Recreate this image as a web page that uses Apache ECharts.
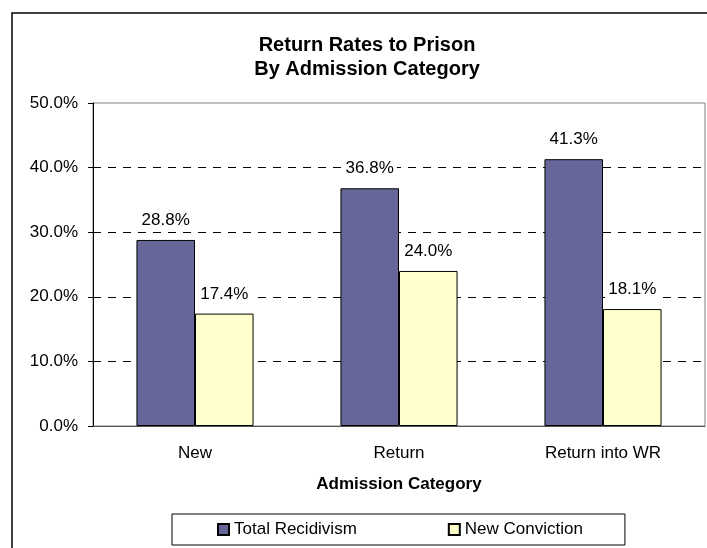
<!DOCTYPE html>
<html>
<head>
<meta charset="utf-8">
<script src="https://cdn.jsdelivr.net/npm/echarts@6/dist/echarts.min.js"></script>
<style>
html,body{margin:0;padding:0;background:#fff;}
#c{width:707px;height:548px;}
</style>
</head>
<body>
<div id="c"></div>
<script>
var categories = ['New', 'Return', 'Return into WR'];
var totalRecidivism = [28.8, 36.8, 41.3];
var newConviction = [17.4, 24.0, 18.1];
var seriesNames = ['Total Recidivism', 'New Conviction'];
var titleLines = ['Return Rates to Prison', 'By Admission Category'];
var xAxisTitle = 'Admission Category';

var FONT = '"Liberation Sans", Arial, Helvetica, sans-serif';
var chart = echarts.init(document.getElementById('c'), null, {renderer: 'canvas'});
function pct(v) { return Number(v).toFixed(1) + '%'; }
var labelCfg = {
  show: true, position: 'top', distance: 10,
  fontFamily: FONT, fontSize: 17, color: '#000',
  backgroundColor: '#fff', padding: [0, 3, 1, 3],
  formatter: function (p) { return pct(p.value); }
};
chart.setOption({
  animation: false,
  backgroundColor: '#fff',
  graphic: [{
    type: 'rect', z: -1, silent: true,
    shape: {x: 12, y: 13, width: 800, height: 700},
    style: {fill: 'none', stroke: '#000', lineWidth: 1.5}
  }],
  title: {
    text: titleLines.join('\n'),
    left: 367, top: 33, padding: 0, textAlign: 'center',
    textStyle: {fontFamily: FONT, fontSize: 20, fontWeight: 'bold', color: '#000', lineHeight: 24}
  },
  legend: {
    data: seriesNames,
    left: 172, top: 514,
    padding: [7, 42, 7, 45],
    itemGap: 91, itemWidth: 11, itemHeight: 11,
    icon: 'rect',
    borderColor: '#000', borderWidth: 1,
    textStyle: {fontFamily: FONT, fontSize: 17, color: '#000'}
  },
  grid: {
    left: 93, right: 2, top: 103, bottom: 122,
    show: true, borderColor: '#808080', borderWidth: 1, backgroundColor: '#fff'
  },
  xAxis: {
    type: 'category', data: categories,
    name: xAxisTitle, nameLocation: 'middle', nameGap: 50,
    nameTextStyle: {fontFamily: FONT, fontSize: 17, fontWeight: 'bold', color: '#000'},
    axisLine: {lineStyle: {color: '#555', width: 1}},
    axisTick: {show: false},
    axisLabel: {fontFamily: FONT, fontSize: 17, color: '#000', margin: 19}
  },
  yAxis: {
    type: 'value', min: 0, max: 50, interval: 10,
    axisLine: {show: true, lineStyle: {color: '#000', width: 1}},
    axisTick: {show: true, length: 5, lineStyle: {color: '#000'}},
    axisLabel: {fontFamily: FONT, fontSize: 17, color: '#000', margin: 15,
      formatter: function (v) { return pct(v); }},
    splitLine: {show: true, showMinLine: false, showMaxLine: false,
      lineStyle: {color: '#000', width: 1, type: [8, 7]}}
  },
  series: [{
    name: seriesNames[0], type: 'bar', data: totalRecidivism,
    barWidth: '28.7%', barGap: '0%',
    itemStyle: {color: '#666699', borderColor: '#000', borderWidth: 1},
    label: labelCfg
  }, {
    name: seriesNames[1], type: 'bar', data: newConviction,
    barWidth: '28.7%', barGap: '0%',
    itemStyle: {color: '#FFFFCC', borderColor: '#000', borderWidth: 1},
    label: labelCfg
  }]
});
</script>
</body>
</html>
